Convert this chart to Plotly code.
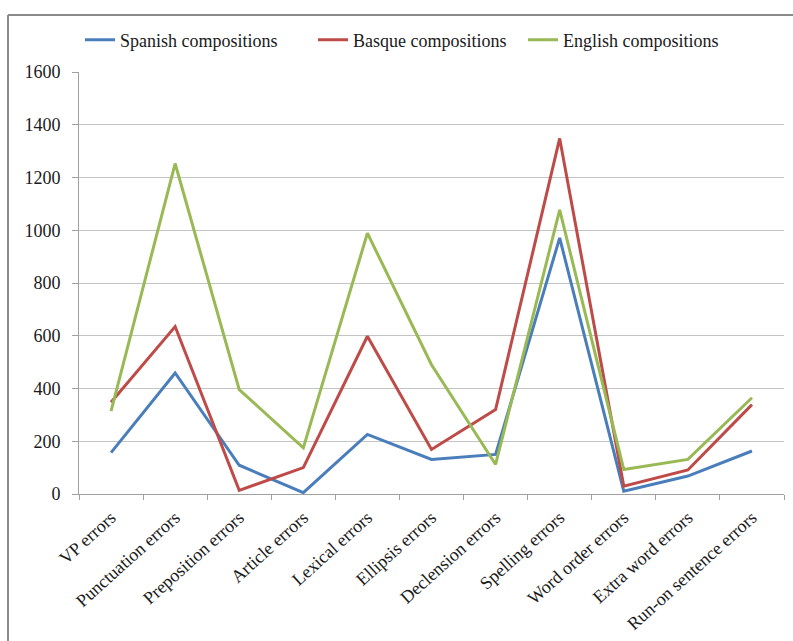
import plotly.graph_objects as go

categories = ["VP errors", "Punctuation errors", "Preposition errors", "Article errors",
              "Lexical errors", "Ellipsis errors", "Declension errors", "Spelling errors",
              "Word order errors", "Extra word errors", "Run-on sentence errors"]
spanish = [157, 459, 109, 5, 226, 131, 150, 971, 11, 68, 163]
basque = [348, 635, 14, 100, 598, 169, 320, 1348, 30, 91, 339]
english = [314, 1253, 396, 175, 989, 490, 112, 1077, 93, 131, 365]
y_ticks = [0, 200, 400, 600, 800, 1000, 1200, 1400, 1600]

W, H = 793, 641
L, R, T, B = 79, 9, 72, 147
PW, PH = W - L - R, H - T - B

def px(x):
    return (x - L) / PW

def py(y):
    return (H - B - y) / PH

FONT = "Liberation Serif"
TXT = "#1a1a1a"

series = [("Spanish compositions", spanish, "#4a7ebb", "legend", 80),
          ("Basque compositions", basque, "#be4b48", "legend2", 313),
          ("English compositions", english, "#98b954", "legend3", 523)]

fig = go.Figure()
legends = {}
for name, vals, col, lg, lx in series:
    fig.add_trace(go.Scatter(x=categories, y=vals, mode="lines", name=name,
                             line=dict(color=col, width=3), legend=lg))
    legends[lg] = dict(orientation="h", x=px(lx), y=py(40), xanchor="left",
                       yanchor="middle", font=dict(family=FONT, size=18, color=TXT),
                       bgcolor="rgba(0,0,0,0)")

fig.update_layout(
    width=W, height=H,
    margin=dict(l=L, r=R, t=T, b=B, autoexpand=False),
    paper_bgcolor="white", plot_bgcolor="white",
    font=dict(family=FONT, size=18, color=TXT),
    showlegend=True,
    **legends,
    xaxis=dict(type="category", range=[-0.5, 10.5], tickson="boundaries",
               ticks="outside", ticklen=5, tickcolor="#a0a0a0",
               showline=True, linecolor="#a0a0a0", linewidth=1,
               showgrid=False, tickangle=-42, ticklabelstandoff=5, automargin=False,
               tickfont=dict(family=FONT, size=18, color=TXT)),
    yaxis=dict(range=[0, 1600], tickvals=y_ticks, ticks="outside", ticklen=6,
               tickcolor="#a0a0a0", showline=True, linecolor="#a0a0a0", linewidth=1,
               showgrid=True, gridcolor="#c4c4c4", gridwidth=1, zeroline=False,
               ticklabelstandoff=8, automargin=False,
               tickfont=dict(family=FONT, size=18, color=TXT)),
    shapes=[
        dict(type="line", xref="paper", yref="paper", x0=px(8), x1=px(800),
             y0=py(15), y1=py(15), line=dict(color="#8a8a8a", width=2)),
        dict(type="line", xref="paper", yref="paper", x0=px(8), x1=px(8),
             y0=py(15), y1=py(660), line=dict(color="#8a8a8a", width=2)),
    ],
)

fig.write_html("out.html")
